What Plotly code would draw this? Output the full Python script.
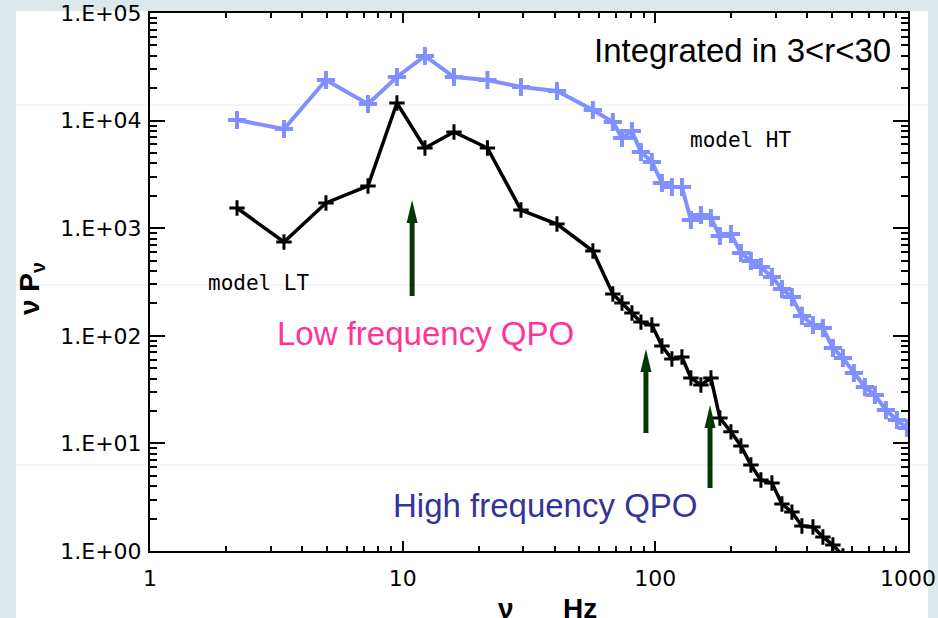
import plotly.graph_objects as go

# ---------------- data ----------------
freq_hz = [2.21, 3.39, 4.97, 7.29, 9.49, 12.25, 15.96, 21.65, 29.39, 40.8,
           56.6, 67.9, 73.8, 80.8, 87.7, 96.9, 106.2, 116.3, 127.4, 138.3,
           151.5, 166.0, 180.1, 199.2, 218.2, 238.9, 261.7, 289.4, 317.0, 347.2,
           380.3, 420.5, 460.5, 504.4, 552.6, 610.8, 675.2, 739.6, 817.6, 903.9,
           990.1]

power_ht = [10130, 8356, 23840, 14270, 25420, 39850, 25420, 23840, 20530, 18840,
            12540, 9705, 6891, 8004, 5108, 4123, 2632, 2415, 2415, 1192,
            1327, 1244, 846, 883, 588, 496, 436, 352, 272, 229,
            153, 126, 118, 77.0, 62.2, 45.1, 33.4, 28.2, 20.4, 16.5,
            13.9]

power_lt = [1540, 744, 1715, 2468, 14580, 5565, 7834, 5565, 1476, 1094,
            614, 245, 202, 163, 134, 126, 80.4, 60.9, 63.5, 40.5,
            34.9, 40.5, 17.2, 12.8, 9.46, 6.30, 4.57, 4.29, 2.73, 2.30,
            1.71, 1.67, 1.35, 1.14, 0.90]

x_tickvals = [1, 10, 100, 1000]
x_ticktext = ["1", "10", "100", "1000"]
y_tickvals = [1, 10, 100, 1000, 10000, 100000]
y_ticktext = ["1.E+00", "1.E+01", "1.E+02", "1.E+03", "1.E+04", "1.E+05"]

# QPO arrows: frequency (Hz) and value at arrow tip
qpo_freq = [10.9, 91.8, 164.6]
qpo_tip = [1828, 75.4, 22.7]
qpo_len_px = [96, 84, 83]

# ---------------- layout geometry ----------------
W, H = 938, 618
L, R, T, B = 150, 30, 13, 67
PW, PH = W - L - R, H - T - B


def px(xp):
    return (xp - L) / PW


def py(yp):
    return (H - B - yp) / PH


minor_x = [m * 10 ** d for d in range(0, 3) for m in range(2, 10)]
minor_y = [m * 10 ** d for d in range(0, 5) for m in range(2, 10)]

fig = go.Figure()

fig.add_trace(go.Scatter(
    x=freq_hz[:len(power_ht)], y=power_ht, mode="lines+markers",
    line=dict(color="#8090ff", width=4),
    marker=dict(symbol="cross-thin", size=13, line=dict(color="#8090ff", width=4)),
    showlegend=False))

fig.add_trace(go.Scatter(
    x=freq_hz[:len(power_lt)], y=power_lt, mode="lines+markers",
    line=dict(color="black", width=3.5),
    marker=dict(symbol="cross-thin", size=11, line=dict(color="black", width=3)),
    showlegend=False))

tickfont = dict(family="DejaVu Sans", size=22, color="black")

fig.update_xaxes(
    type="log", range=[0, 3], showline=True, linecolor="black", linewidth=2,
    mirror="ticks", ticks="inside", ticklen=10, tickwidth=2, tickcolor="black",
    tickmode="array", tickvals=x_tickvals, ticktext=x_ticktext, tickfont=tickfont,
    ticklabelstandoff=7, showgrid=False, zeroline=False, automargin=False,
    minor=dict(ticks="inside", ticklen=5, tickwidth=1.5, tickcolor="black",
               tickmode="array", tickvals=minor_x, showgrid=False))

fig.update_yaxes(
    type="log", range=[0, 5], showline=True, linecolor="black", linewidth=2,
    mirror="ticks", ticks="inside", ticklen=15, tickwidth=2, tickcolor="black",
    tickmode="array", tickvals=y_tickvals, ticktext=y_ticktext, tickfont=tickfont,
    ticklabelstandoff=2, showgrid=False, zeroline=False, automargin=False,
    minor=dict(ticks="inside", ticklen=7, tickwidth=1.5, tickcolor="black",
               tickmode="array", tickvals=minor_y, showgrid=False))

shapes = []
bg = "#dde8eb"
# slide background strips
shapes.append(dict(type="rect", xref="paper", yref="paper", layer="below",
                   x0=px(0), x1=px(16), y0=py(0), y1=py(H), fillcolor=bg, line_width=0))
shapes.append(dict(type="rect", xref="paper", yref="paper", layer="below",
                   x0=px(0), x1=px(W), y0=py(0), y1=py(11), fillcolor=bg, line_width=0))
shapes.append(dict(type="rect", xref="paper", yref="paper", layer="below",
                   x0=px(928), x1=px(W), y0=py(0), y1=py(H), fillcolor=bg, line_width=0))
# faint horizontal slide lines
for yl in (105, 285, 465):
    shapes.append(dict(type="line", xref="paper", yref="paper", layer="below",
                       x0=px(16), x1=px(928), y0=py(yl), y1=py(yl),
                       line=dict(color="#ececec", width=1)))
# QPO arrows (pixel-sized, anchored in data coordinates)
for f, tip, ln in zip(qpo_freq, qpo_tip, qpo_len_px):
    path = (f"M0,0 L5.5,-23 L2.5,-23 L2.5,-{ln} L-2.5,-{ln} L-2.5,-23 L-5.5,-23 Z")
    shapes.append(dict(type="path", xref="x", yref="y", xsizemode="pixel",
                       ysizemode="pixel", xanchor=f, yanchor=tip, path=path,
                       fillcolor="#063806", line_width=0, layer="above"))

annotations = [
    dict(text="Integrated in 3&lt;r&lt;30", x=px(893), y=py(50), xanchor="right",
         yanchor="middle", font=dict(family="Liberation Sans", size=33, color="black")),
    dict(text="model HT", x=px(741), y=py(140), xanchor="center", yanchor="middle",
         font=dict(family="DejaVu Sans Mono", size=21, color="black")),
    dict(text="model LT", x=px(259), y=py(283), xanchor="center", yanchor="middle",
         font=dict(family="DejaVu Sans Mono", size=21, color="black")),
    dict(text="Low frequency QPO", x=px(425), y=py(333), xanchor="center", yanchor="middle",
         font=dict(family="Liberation Sans", size=33, color="#ff3399")),
    dict(text="High frequency QPO", x=px(545), y=py(505), xanchor="center", yanchor="middle",
         font=dict(family="Liberation Sans", size=33, color="#333399")),
    dict(text="<b>ν</b>", x=px(506), y=py(608), xanchor="center", yanchor="middle",
         font=dict(family="Liberation Sans", size=28, color="black")),
    dict(text="<b>Hz</b>", x=px(580), y=py(608), xanchor="center", yanchor="middle",
         font=dict(family="Liberation Sans", size=28, color="black")),
    dict(text="<b>ν P<sub>ν</sub></b>", x=px(31), y=py(289), xanchor="center",
         yanchor="middle", textangle=-90,
         font=dict(family="Liberation Sans", size=28, color="black")),
]
for a in annotations:
    a.update(xref="paper", yref="paper", showarrow=False)

fig.update_layout(
    width=W, height=H, margin=dict(l=L, r=R, t=T, b=B, pad=0),
    paper_bgcolor="white", plot_bgcolor="rgba(0,0,0,0)",
    shapes=shapes, annotations=annotations, showlegend=False)

fig.write_html("out.html")
